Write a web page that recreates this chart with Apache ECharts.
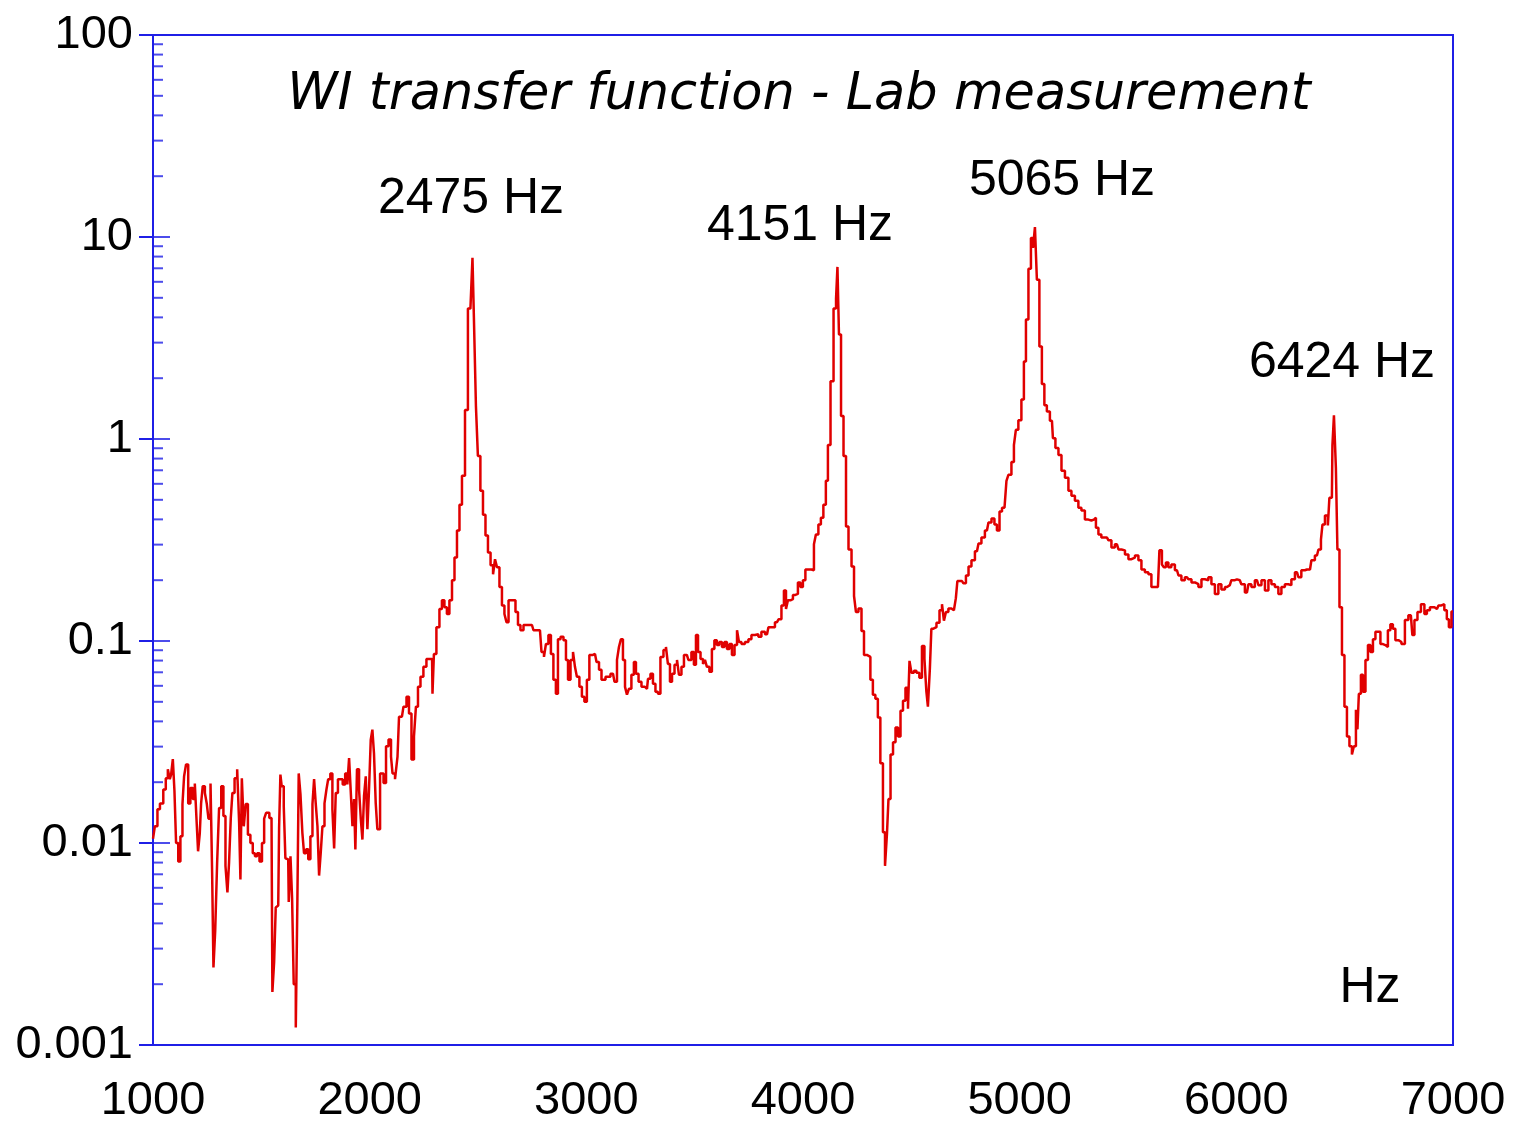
<!DOCTYPE html>
<html><head><meta charset="utf-8">
<script src="https://cdn.jsdelivr.net/npm/echarts@6/dist/echarts.min.js"></script>
<style>html,body{margin:0;padding:0;background:#fff}#c{width:1520px;height:1125px}</style>
</head><body><div id="c"></div>
<script>
// Frequency (Hz) of each measured point
const freqHz = [
1000,1017,1024,1040,1055,1063,1074,1081,1086,1097,1101,1112,1121,1132,1140,1147,1158,1167,1178,1189,
1197,1204,1212,1220,1224,1235,1244,1252,1260,1271,1275,1283,1291,1301,1309,1321,1329,1340,1347,1355,
1363,1370,1383,1394,1401,1406,1414,1424,1432,1444,1455,1466,1475,1486,1497,1509,1517,1527,1547,1555,
1563,1570,1578,1586,1590,1598,1609,1613,1624,1629,1640,1644,1655,1663,1670,1675,1686,1693,1701,1712,
1721,1732,1740,1747,1755,1763,1770,1778,1786,1797,1804,1813,1824,1832,1840,1847,1860,1870,1881,1893,
1901,1909,1917,1924,1932,1936,1947,1955,1963,1970,1978,1986,1993,2001,2009,2016,2024,2032,2039,2057,
2071,2080,2094,2103,2108,2126,2131,2140,2149,2163,2177,2186,2200,2209,2218,2228,2241,2255,2269,2288,
2292,2301,2315,2329,2338,2352,2361,2375,2385,2398,2408,2421,2431,2449,2458,2472,2477,2486,2495,2504,
2518,2528,2541,2551,2565,2574,2583,2592,2606,2615,2629,2634,2648,2666,2680,2689,2703,2717,2749,2763,
2786,2800,2809,2818,2832,2841,2855,2864,2874,2888,2901,2911,2920,2934,2943,2952,2961,2975,2984,2998,
3007,3021,3040,3054,3063,3077,3100,3123,3137,3146,3155,3164,3174,3183,3192,3201,3215,3224,3234,3248,
3261,3280,3289,3303,3312,3326,3335,3349,3363,3372,3381,3391,3400,3414,3423,3432,3446,3455,3464,3478,
3492,3501,3511,3520,3534,3543,3552,3561,3575,3584,3598,3607,3621,3631,3644,3654,3667,3677,3691,3700,
3709,3723,3741,3755,3769,3787,3801,3815,3834,3847,3861,3880,3894,3907,3917,3926,3935,3949,3958,3972,
3981,3995,4004,4018,4032,4046,4055,4064,4078,4087,4101,4110,4120,4134,4148,4157,4161,4171,4180,4194,
4203,4217,4231,4240,4249,4263,4277,4286,4304,4318,4327,4341,4350,4364,4374,4383,4392,4397,4411,4420,
4434,4443,4457,4466,4480,4489,4494,4507,4517,4530,4544,4554,4567,4572,4581,4590,4595,4609,4623,4637,
4646,4655,4664,4678,4692,4701,4710,4715,4734,4747,4757,4771,4784,4803,4817,4830,4849,4863,4877,4890,
4900,4914,4923,4937,4941,4955,4969,4978,4987,5001,5015,5024,5034,5047,5057,5066,5075,5084,5098,5107,
5121,5130,5149,5158,5172,5186,5200,5218,5232,5246,5264,5278,5292,5310,5324,5338,5347,5357,5370,5384,
5403,5417,5430,5449,5463,5477,5495,5509,5523,5541,5555,5569,5587,5601,5615,5638,5652,5661,5670,5680,
5693,5707,5726,5740,5753,5772,5786,5800,5818,5832,5846,5864,5878,5892,5910,5924,5938,5957,5970,5984,
6003,6016,6030,6049,6063,6076,6095,6109,6123,6141,6155,6169,6187,6201,6215,6233,6247,6261,6280,6293,
6307,6326,6340,6353,6372,6386,6395,6400,6418,6427,6432,6441,6446,6455,6464,6469,6483,6492,6506,6515,
6529,6538,6547,6557,6561,6570,6580,6589,6603,6612,6626,6635,6649,6658,6672,6681,6695,6704,6718,6727,
6741,6755,6769,6787,6801,6810,6815,6829,6843,6861,6875,6884,6903,6926,6940,6953,6967,6976,6986,7000
];
// Transfer function magnitude at each frequency
const magnitude = [
0.0105,0.0121,0.0147,0.0157,0.0184,0.0209,0.0232,0.0207,0.0218,0.0260,0.0181,0.0100,0.0081,0.0108,0.0156,0.0214,0.0245,0.0157,0.0187,0.0165,
0.0197,0.0133,0.0091,0.0112,0.0157,0.0191,0.0177,0.0157,0.0132,0.0197,0.0070,0.00242,0.00366,0.0080,0.0149,0.0191,0.0136,0.0077,0.0057,0.0080,
0.0133,0.0177,0.0209,0.0232,0.0126,0.0066,0.0209,0.0121,0.0156,0.0110,0.0100,0.0089,0.0086,0.0089,0.0081,0.0100,0.0132,0.0141,0.0133,0.00183,
0.00257,0.0048,0.0049,0.0119,0.0218,0.0191,0.0152,0.0084,0.0083,0.0051,0.0086,0.0053,0.00200,0.00122,0.0053,0.0221,0.0175,0.0112,0.0089,0.0093,
0.0083,0.0108,0.0156,0.0207,0.0157,0.0121,0.0069,0.0089,0.0121,0.0157,0.0184,0.0207,0.0221,0.0147,0.0094,0.0177,0.0207,0.0207,0.0195,0.0221,
0.0195,0.0263,0.0177,0.0121,0.0165,0.0093,0.0232,0.0184,0.0132,0.0104,0.0171,0.0214,0.0117,0.0184,0.0325,0.0364,0.0277,0.0157,0.0117,0.0221,
0.0198,0.0301,0.0325,0.0268,0.0221,0.0207,0.0268,0.0422,0.0422,0.0473,0.0530,0.0437,0.0259,0.0337,0.0473,0.0593,0.0665,0.0745,0.0815,0.0815,
0.0548,0.0863,0.117,0.144,0.159,0.147,0.136,0.159,0.200,0.259,0.352,0.473,0.657,1.39,4.42,4.42,7.88,3.81,1.45,0.825,
0.554,0.422,0.333,0.274,0.237,0.214,0.254,0.232,0.185,0.150,0.136,0.124,0.159,0.159,0.139,0.120,0.113,0.120,0.120,0.113,
0.113,0.0883,0.0834,0.0966,0.107,0.0863,0.0643,0.0548,0.102,0.105,0.101,0.0806,0.0643,0.0806,0.0883,0.0745,0.0665,0.0593,0.0530,0.0501,
0.0643,0.0853,0.0863,0.0788,0.0720,0.0643,0.0665,0.0688,0.0628,0.0806,0.0934,0.102,0.0806,0.0593,0.0542,0.0580,0.0680,0.0788,0.0688,0.0628,
0.0593,0.0580,0.0650,0.0688,0.0614,0.0561,0.0548,0.0834,0.0903,0.0934,0.0770,0.0628,0.0688,0.0762,0.0806,0.0680,0.0745,0.0853,0.0853,0.0806,
0.0883,0.0762,0.107,0.0883,0.0815,0.0770,0.0806,0.0745,0.0704,0.0913,0.101,0.0955,0.0989,0.0934,0.0989,0.0913,0.0966,0.0853,0.0955,0.113,
0.0989,0.0966,0.0989,0.102,0.107,0.108,0.105,0.111,0.108,0.117,0.117,0.124,0.128,0.150,0.178,0.144,0.159,0.161,0.169,0.171,
0.195,0.185,0.200,0.226,0.226,0.224,0.301,0.337,0.377,0.408,0.473,0.621,0.934,1.93,4.42,4.95,7.11,3.29,1.30,0.825,
0.369,0.284,0.234,0.167,0.139,0.145,0.112,0.0853,0.0834,0.0643,0.0542,0.0518,0.0418,0.0248,0.0113,0.0077,0.0111,0.0165,0.0274,0.0315,
0.0373,0.0337,0.0452,0.0506,0.0587,0.0462,0.0797,0.0696,0.0713,0.0696,0.0657,0.0945,0.0815,0.0561,0.0473,0.0728,0.115,0.117,0.123,0.142,
0.152,0.126,0.139,0.145,0.142,0.139,0.163,0.198,0.198,0.193,0.211,0.234,0.251,0.278,0.304,0.325,0.352,0.386,0.404,0.377,
0.352,0.437,0.457,0.467,0.621,0.665,0.770,0.934,1.11,1.24,1.57,2.42,3.90,6.96,9.89,8.83,11.2,6.14,2.87,1.87,
1.47,1.37,1.23,1.01,0.903,0.834,0.696,0.643,0.554,0.524,0.495,0.457,0.442,0.399,0.395,0.399,0.408,0.364,0.337,0.325,
0.325,0.315,0.290,0.301,0.284,0.281,0.268,0.254,0.259,0.265,0.251,0.226,0.219,0.214,0.185,0.185,0.281,0.239,0.232,0.245,
0.232,0.239,0.224,0.211,0.200,0.207,0.202,0.195,0.191,0.185,0.202,0.200,0.207,0.191,0.171,0.191,0.180,0.185,0.189,0.200,
0.202,0.200,0.191,0.174,0.191,0.185,0.200,0.189,0.200,0.178,0.200,0.191,0.185,0.171,0.185,0.191,0.189,0.202,0.219,0.207,
0.224,0.226,0.226,0.251,0.265,0.284,0.318,0.377,0.418,0.373,0.512,0.512,0.934,1.31,0.719,0.284,0.147,0.0853,0.0473,0.0337,
0.0301,0.0274,0.0301,0.0457,0.0365,0.0548,0.0680,0.0561,0.0806,0.0955,0.0883,0.102,0.111,0.111,0.0966,0.0955,0.0934,0.113,0.121,0.115,
0.101,0.0989,0.0966,0.127,0.134,0.131,0.107,0.127,0.139,0.152,0.136,0.142,0.147,0.144,0.150,0.152,0.142,0.128,0.117,0.140
];
const xTickLabels = ['1000','2000','3000','4000','5000','6000','7000'];
const yTickLabels = ['0.001','0.01','0.1','1','10','100'];
const yMinorTicks = [
0.002,0.003,0.004,0.005,0.006,0.007,0.008,0.009,
0.02,0.03,0.04,0.05,0.06,0.07,0.08,0.09,
0.2,0.3,0.4,0.5,0.6,0.7,0.8,0.9,
2,3,4,5,6,7,8,9,
20,30,40,50,60,70,80,90
];
const titleText = 'WI transfer function - Lab measurement';
const peakLabels = ['2475 Hz','4151 Hz','5065 Hz','6424 Hz'];
const unitLabel = 'Hz';

const BLUE = '#1f1fe6';
const RED = '#e00000';
const lineData = freqHz.map((f, i) => [f, magnitude[i]]);
const majorVals = yTickLabels.map(Number);

const chart = echarts.init(document.getElementById('c'), null, {renderer: 'canvas'});
const labelFont = 'Liberation Sans';
chart.setOption({
  animation: false,
  backgroundColor: '#ffffff',
  grid: {left: 153, right: 67, top: 35, bottom: 77, show: true, borderColor: BLUE, borderWidth: 2, backgroundColor: 'transparent'},
  xAxis: {
    type: 'value', min: 1000, max: 7000, interval: 1000,
    axisLine: {show: true, onZero: false, lineStyle: {color: BLUE, width: 2}},
    axisTick: {show: false},
    splitLine: {show: false},
    axisLabel: {
      color: '#000', fontFamily: labelFont, fontSize: 47, margin: 33,
      formatter: v => xTickLabels.find(s => Number(s) === Math.round(v)) || ''
    }
  },
  yAxis: {
    type: 'log', logBase: 10, min: 0.001, max: 100,
    axisLine: {show: true, lineStyle: {color: BLUE, width: 2}},
    axisTick: {show: true, inside: false, length: 14, lineStyle: {color: BLUE, width: 2}},
    splitLine: {show: false},
    minorTick: {show: false},
    axisLabel: {
      color: '#000', fontFamily: labelFont, fontSize: 47, margin: 20,
      formatter: v => yTickLabels.find(s => Math.abs(Math.log10(Number(s)) - Math.log10(v)) < 1e-6) || ''
    }
  },
  series: [
    {
      name: 'minor ticks', type: 'scatter', silent: true, z: 5,
      data: yMinorTicks.map(v => [1000, v]),
      symbol: 'rect', symbolSize: [10, 2], symbolOffset: [5, 0],
      itemStyle: {color: BLUE}
    },
    {
      name: 'major ticks', type: 'scatter', silent: true, z: 5,
      data: majorVals.map(v => [1000, v]),
      symbol: 'rect', symbolSize: [17, 2], symbolOffset: [8.5, 0],
      itemStyle: {color: BLUE}
    },
    {
      name: 'WI transfer function', type: 'line', data: lineData, step: 'middle',
      showSymbol: false, symbol: 'none', sampling: null, z: 3,
      lineStyle: {color: RED, width: 2.5}
    }
  ],
  graphic: [
    {type: 'text', x: 799, y: 96, style: {text: titleText, font: 'italic 51px "DejaVu Sans"', fill: '#000', textAlign: 'center', textVerticalAlign: 'middle'}},
    {type: 'text', x: 471, y: 199, style: {text: peakLabels[0], font: '50px "Liberation Sans"', fill: '#000', textAlign: 'center', textVerticalAlign: 'middle'}},
    {type: 'text', x: 800, y: 226, style: {text: peakLabels[1], font: '50px "Liberation Sans"', fill: '#000', textAlign: 'center', textVerticalAlign: 'middle'}},
    {type: 'text', x: 1062, y: 181, style: {text: peakLabels[2], font: '50px "Liberation Sans"', fill: '#000', textAlign: 'center', textVerticalAlign: 'middle'}},
    {type: 'text', x: 1342, y: 363, style: {text: peakLabels[3], font: '50px "Liberation Sans"', fill: '#000', textAlign: 'center', textVerticalAlign: 'middle'}},
    {type: 'text', x: 1370, y: 988, style: {text: unitLabel, font: '50px "Liberation Sans"', fill: '#000', textAlign: 'center', textVerticalAlign: 'middle'}}
  ]
});
</script>
</body></html>
